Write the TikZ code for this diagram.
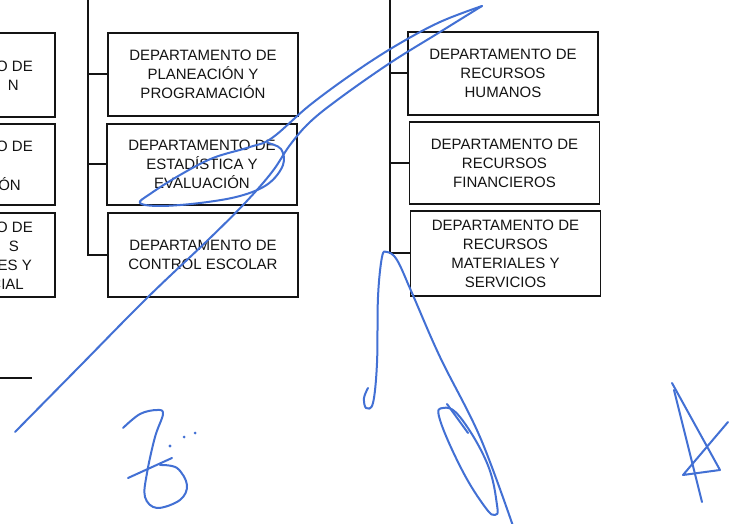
\documentclass[tikz,border=0pt]{standalone}
\usepackage{fontspec}
\setmainfont{Liberation Sans}
\usepackage{tikz}
\definecolor{ink}{RGB}{20,20,20}
\definecolor{pen}{RGB}{66,112,212}

\begin{document}
\begin{tikzpicture}[x=1pt,y=-1pt,
  depto/.style={draw=ink,line width=1.8pt,text=ink,minimum width=190pt,minimum height=83pt,
    align=center,inner sep=0pt,font=\fontsize{15}{19}\selectfont},
  trozo/.style={text=ink,anchor=east,inner sep=0pt,font=\fontsize{15}{19}\selectfont},
  rama/.style={ink,line width=2pt},
  firma/.style={pen,line width=2pt,line cap=round,line join=round}]
%\draw[help lines] (0,0) grid[step=20] (740,524);
\useasboundingbox (0,0) rectangle (740,524);
\fill[white] (0,0) rectangle (740,524);
\begin{scope}
\clip (0,0) rectangle (740,524);

% left column, cut by the page edge
\node[depto,minimum height=84pt] (izq1) at (-40,75) {};
\node[depto,minimum height=81pt] (izq2) at (-40,164.5) {};
\node[depto,minimum height=84pt] (izq3) at (-40,255) {};
\node[trozo] (izq1a) at (33,66) {O DE};
\node[trozo] (izq1b) at (19,85) {N};
\node[trozo] (izq2a) at (33,146) {O DE};
\node[trozo] (izq2c) at (21,184) {ÓN};
\node[trozo] (izq3a) at (33,227) {O DE};
\node[trozo] (izq3b) at (19,246) {S};
\node[trozo] (izq3c) at (32,265) {ES Y};
\node[trozo] (izq3d) at (24,284) {CIAL};
\coordinate (pie1) at (-5,378);
\coordinate (pie2) at (32,378);
\draw[rama] (pie1) -- (pie2);

% middle column
\node[depto] (plan) at (203,74.5) {DEPARTAMENTO DE\\PLANEACIÓN Y\\PROGRAMACIÓN};
\node[depto,minimum height=81pt] (esta) at (202,164.5) {DEPARTAMENTO DE\\ESTADÍSTICA Y\\EVALUACIÓN};
\node[depto,minimum height=84pt] (ctrl) at (203,255) {DEPARTAMENTO DE\\CONTROL ESCOLAR};
\coordinate (mtop) at (88,-3);
\draw[rama] (mtop) |- (ctrl.west);
\draw[rama] (plan.west) -- (plan.west -| mtop);
\draw[rama] (esta.west) -- (esta.west -| mtop);

% right column
\node[depto] (rhum) at (503,73.5) {DEPARTAMENTO DE\\RECURSOS\\HUMANOS};
\node[depto,minimum height=82pt] (rfin) at (504.5,163) {DEPARTAMENTO DE\\RECURSOS\\FINANCIEROS};
\node[depto,minimum height=85pt] (rmat) at (505.5,253.5) {DEPARTAMENTO DE\\RECURSOS\\MATERIALES Y\\SERVICIOS};
\coordinate (rtop) at (390,-3);
\draw[rama] (rtop) |- (rmat.west);
\draw[rama] (rhum.west) -- (rhum.west -| rtop);
\draw[rama] (rfin.west) -- (rfin.west -| rtop);

% signatures
\draw[firma] plot[smooth,tension=0.6] coordinates {(15,432) (80,366) (147,298) (208,240) (245,203)
  (272,172) (290,145) (310,122) (340,98) (390,63) (440,32) (482,6)};
\draw[firma] plot[smooth,tension=0.6] coordinates {(482,6) (440,22) (397,45) (355,72) (310,105)
  (272,138) (250,147) (213,158) (180,175) (150,194) (140,203) (160,206) (200,203) (240,196)
  (268,184) (283,165) (281,149) (268,143)};

\draw[firma] plot[smooth,tension=0.6] coordinates {(123,428) (140,414) (157,410) (163,414) (155,437)
  (147,473) (145,497) (157,508) (180,500) (187,485) (177,468) (160,465)};
\draw[firma] (128,478) -- (172,458);
\fill[pen] (170,446) circle (1.7pt) (184,437) circle (1.5pt) (195,433) circle (1.5pt);

\draw[firma] plot[smooth,tension=0.6] coordinates {(368,388) (364,398) (366,408) (373,403) (377,363)
  (378,297) (382,257) (387,252) (397,260) (412,293) (440,357) (480,437) (513,526)};
\draw[firma] plot[smooth cycle,tension=0.7] coordinates {(443,408) (440,420) (462,470) (485,507)
  (495,515) (497,505) (487,463) (460,417)};
\draw[firma] (447,404) -- (468,433);

\draw[firma] (672,383) -- (720,470) -- (683,475) -- (728,422);
\draw[firma] (674,390) -- (702,502);
\end{scope}
\end{tikzpicture}
\end{document}
